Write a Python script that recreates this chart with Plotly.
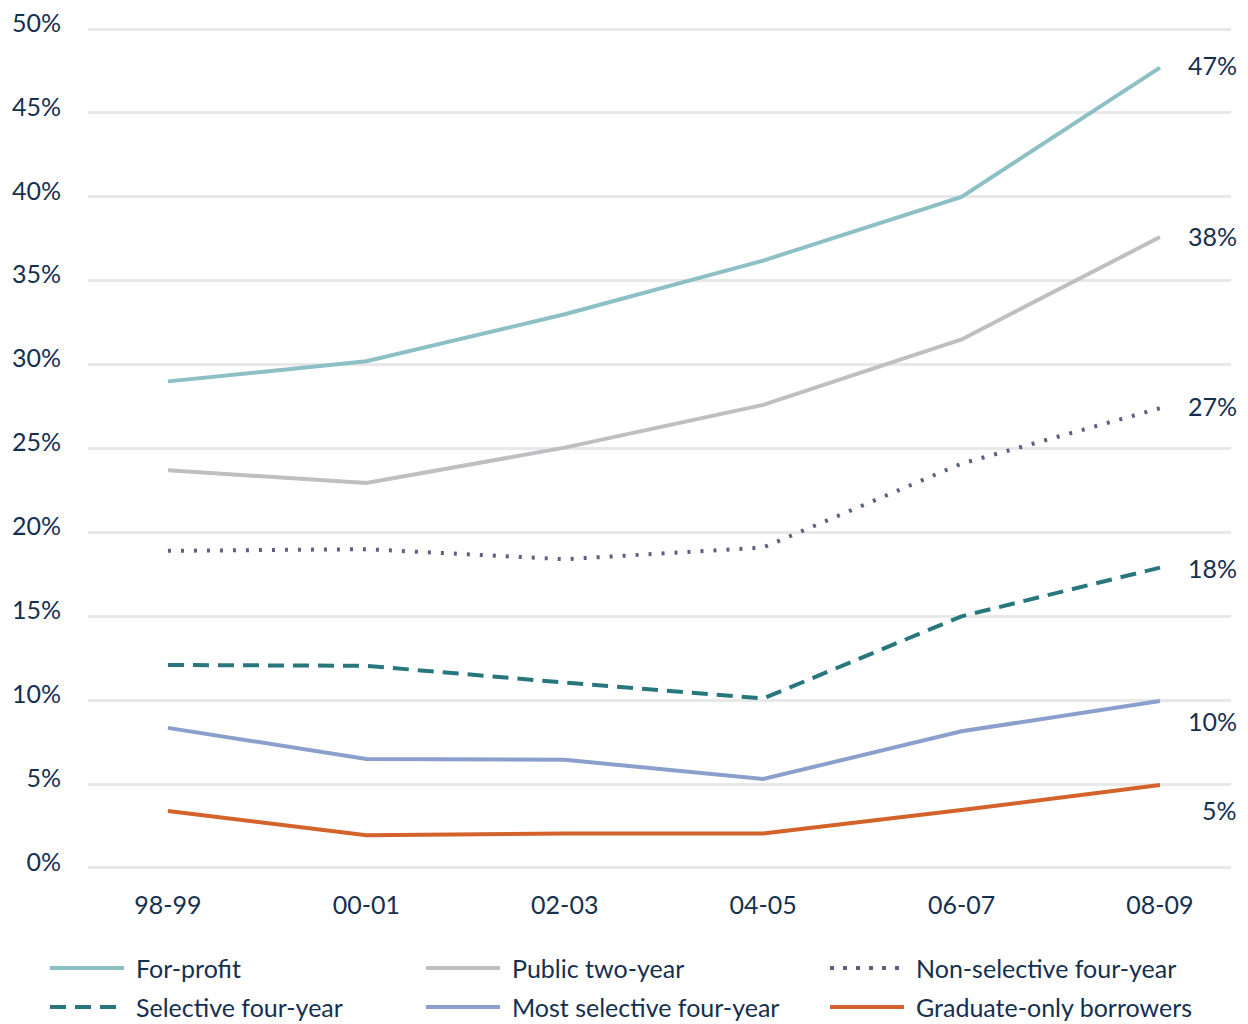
import plotly.graph_objects as go

categories = ["98-99", "00-01", "02-03", "04-05", "06-07", "08-09"]

for_profit = [29.0, 30.2, 33.0, 36.2, 40.0, 47.7]
public_two_year = [23.7, 22.95, 25.05, 27.6, 31.5, 37.6]
non_selective = [18.9, 19.0, 18.4, 19.1, 24.1, 27.4]
selective = [12.1, 12.05, 11.05, 10.1, 15.0, 17.9]
most_selective = [8.35, 6.5, 6.45, 5.3, 8.15, 9.95]
graduate_only = [3.4, 1.95, 2.05, 2.05, 3.45, 4.95]

end_labels = ["47%", "38%", "27%", "18%", "10%", "5%"]
y_ticks = [0, 5, 10, 15, 20, 25, 30, 35, 40, 45, 50]

series = [
    ("For-profit", for_profit, "#8cc0c5", "solid"),
    ("Public two-year", public_two_year, "#bfbfc1", "solid"),
    ("Non-selective four-year", non_selective, "#5c6180", "3px,10px"),
    ("Selective four-year", selective, "#27777d", "16px,9px"),
    ("Most selective four-year", most_selective, "#8a9fcc", "solid"),
    ("Graduate-only borrowers", graduate_only, "#d4622b", "solid"),
]
label_shift = [3, 1, 2, 0, -20, -25]

TEXT = "#15304f"
FONT = "Lato"

fig = go.Figure()
xs = list(range(len(categories)))
for (name, vals, color, dash) in series:
    fig.add_trace(go.Scatter(
        x=xs, y=vals, mode="lines", name=name,
        line=dict(color=color, width=4, dash=dash),
        showlegend=False, hoverinfo="skip",
    ))

# end labels
for (name, vals, color, dash), lab, sh in zip(series, end_labels, label_shift):
    fig.add_annotation(
        x=xs[-1], y=vals[-1], text=lab, showarrow=False,
        xanchor="right", yanchor="middle", xshift=79, yshift=sh,
        font=dict(family=FONT, size=25, color=TEXT),
    )

W, H = 1248, 1024
l, r, t, b = 88, 17, 27, 154
pw, ph = W - l - r, H - t - b
y_lo, y_hi = -0.12, 50.12

# legend (manual, 3 columns x 2 rows)
col_x = [50, 426, 830]
row_y = [968, 1007]
for i, (name, vals, color, dash) in enumerate(series):
    cx = col_x[i % 3]
    ry = row_y[i // 3]
    x0 = (cx - l) / pw
    x1 = (cx + 74 - l) / pw
    yy = (H - b - ry) / ph
    fig.add_shape(type="line", xref="paper", yref="paper",
                  x0=x0, x1=x1, y0=yy, y1=yy,
                  line=dict(color=color, width=4,
                            dash=("4px,9px" if dash == "3px,10px" else dash)))
    fig.add_annotation(xref="paper", yref="paper", x=(cx + 84 - l) / pw, y=yy,
                       text=name, showarrow=False, xanchor="left", yanchor="middle",
                       font=dict(family=FONT, size=25, color=TEXT))

fig.update_layout(
    width=W, height=H,
    margin=dict(l=l, r=r, t=t, b=b, autoexpand=False),
    plot_bgcolor="white", paper_bgcolor="white",
    font=dict(family=FONT, size=25, color=TEXT),
    showlegend=False,
)
fig.update_xaxes(
    tickmode="array", tickvals=xs, ticktext=categories,
    range=[-0.403, 5.358], showgrid=False, zeroline=False, showline=False,
    ticks="", ticklabelstandoff=18, automargin=False,
)
fig.update_yaxes(
    tickmode="array", tickvals=y_ticks, ticktext=[f"{v}%" for v in y_ticks],
    range=[y_lo, y_hi], showgrid=True, gridcolor="#e8e8e8", gridwidth=3,
    zeroline=False, showline=False, ticks="", ticklabelstandoff=26,
    ticklabelshift=-6, automargin=False,
)

fig.write_html("out.html")
